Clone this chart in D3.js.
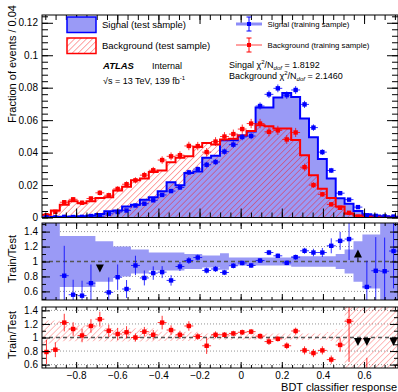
<!DOCTYPE html>
<html><head><meta charset="utf-8">
<script src="https://cdn.jsdelivr.net/npm/d3@7"></script>
<style>
body{margin:0;background:#fff;overflow:hidden}
text{font-family:"Liberation Sans",Arial,Helvetica,sans-serif;fill:#000}
</style></head>
<body><svg id="c" width="398" height="392"></svg>
<script>
// ---------------- data ----------------
const binLow = -0.966, binHigh = 0.765, nBins = 40;
const sigTest = [0.0002,0.0003,0.0005,0.0006,0.0008,0.0012,0.0022,0.0039,0.0043,0.0068,0.0078,0.0109,0.0125,0.0162,0.0218,0.0198,0.0274,0.0284,0.0369,0.0380,0.0476,0.0476,0.0506,0.0530,0.0678,0.0678,0.0740,0.0768,0.0743,0.0610,0.0495,0.0360,0.0240,0.0118,0.0085,0.0040,0.0020,0.0012,0.0008,0.0005];
const sigTrain = [0.0001,0.0001,0.0004,0.0003,0.0004,0.0009,0.0008,0.0023,0.0034,0.0043,0.0074,0.0085,0.0106,0.0139,0.0163,0.0185,0.0278,0.0298,0.0325,0.0342,0.0406,0.0449,0.0496,0.0502,0.0687,0.0759,0.0796,0.0754,0.0786,0.0697,0.0554,0.0403,0.0290,0.0150,0.0110,0.0064,0.0013,0.0010,0.0007,0.0006];
const sigTrainErr = [0.0001,0.0001,0.0002,0.0002,0.0002,0.0003,0.0003,0.0005,0.0006,0.0007,0.0009,0.0010,0.0011,0.0012,0.0013,0.0014,0.0016,0.0017,0.0018,0.0018,0.0019,0.0020,0.0020,0.0020,0.0022,0.0023,0.0024,0.0023,0.0024,0.0022,0.0020,0.0018,0.0016,0.0012,0.0010,0.0008,0.0004,0.0003,0.0003,0.0003];
const bkgTest = [0.0017,0.0043,0.0078,0.0100,0.0088,0.0100,0.0120,0.0125,0.0167,0.0190,0.0229,0.0240,0.0280,0.0290,0.0340,0.0369,0.0377,0.0434,0.0459,0.0450,0.0480,0.0485,0.0506,0.0533,0.0568,0.0562,0.0548,0.0548,0.0478,0.0383,0.0260,0.0177,0.0120,0.0068,0.0023,0.0013,0.0008,0.0004,0.0002,0.0002];
const bkgTrain = [0.0014,0.0035,0.0094,0.0112,0.0091,0.0117,0.0152,0.0137,0.0176,0.0205,0.0229,0.0261,0.0291,0.0354,0.0377,0.0384,0.0441,0.0440,0.0403,0.0468,0.0499,0.0514,0.0545,0.0579,0.0579,0.0528,0.0537,0.0481,0.0524,0.0310,0.0200,0.0143,0.0081,0.0060,0.0029,0.0005,0.0002,null,null,0.0001];
const bkgTrainErr = [0.0006,0.0009,0.0013,0.0014,0.0013,0.0014,0.0016,0.0016,0.0017,0.0018,0.0019,0.0020,0.0021,0.0023,0.0024,0.0024,0.0026,0.0026,0.0025,0.0027,0.0027,0.0028,0.0028,0.0029,0.0029,0.0028,0.0028,0.0027,0.0028,0.0022,0.0018,0.0015,0.0012,0.0010,0.0007,0.0003,0.0003,0.0002,0.0002,0.0002];

const sigRatio = [null,null,0.81,0.556,0.543,0.71,0.40,0.587,0.79,0.632,0.947,0.78,0.845,0.858,0.747,0.933,1.013,1.053,0.88,0.90,0.853,0.943,0.98,0.947,1.013,1.12,1.076,0.982,1.058,1.143,1.12,1.12,1.21,1.276,1.30,1.65,0.66,0.876,0.87,1.14];
const sigRatioErr = [0,0,0.4,0.2,0.2,0.25,0,0.2,0.17,0.12,0.13,0.1,0.09,0.08,0.07,0.06,0.045,0.04,0.04,0.04,0.035,0.035,0.03,0.03,0.03,0.035,0.03,0.03,0.035,0.04,0.05,0.06,0.1,0.12,0.28,0,0.35,0.45,0.45,0.5];
const sigBand = [0.6,0.6,0.34,0.34,0.34,0.34,0.27,0.27,0.2,0.2,0.16,0.16,0.12,0.12,0.12,0.12,0.1,0.1,0.08,0.08,0.11,0.055,0.055,0.055,0.055,0.055,0.055,0.055,0.07,0.07,0.07,0.07,0.07,0.1,0.16,0.27,0.36,0.36,0.6,0.6];

const bkgRatio = [0.786,0.82,1.22,1.125,1.03,1.17,1.27,1.10,1.052,1.077,1.0,1.086,1.04,1.22,1.11,1.04,1.17,1.014,0.878,1.04,1.04,1.06,1.077,1.086,1.02,0.94,0.98,0.878,1.096,0.81,0.77,0.81,0.674,0.89,1.24,0.40,0.30,null,null,0.40];
const bkgRatioErr = [0.18,0.11,0.13,0.1,0.1,0.1,0.11,0.09,0.09,0.09,0.06,0.07,0.07,0.1,0.07,0.06,0.07,0.05,0.12,0.05,0.04,0.04,0.04,0.04,0.04,0.05,0.04,0.05,0.05,0.06,0.06,0.06,0.06,0.1,0.6,0.1,0.4,0,0,0.1];
const bkgBandUp = [0.25,0.25,0.18,0.18,0.18,0.18,0.18,0.135,0.135,0.135,0.135,0.135,0.135,0.086,0.086,0.086,0.086,0.086,0.06,0.06,0.06,0.06,0.06,0.06,0.06,0.06,0.06,0.06,0.06,0.06,0.06,0.06,0.08,0.12,0.6,0.6,0.6,0.6,0.6,0.6];
const bkgBandDown = [0.09,0.09,0.055,0.055,0.055,0.055,0.055,0.06,0.06,0.06,0.06,0.06,0.06,0.05,0.05,0.05,0.05,0.05,0.035,0.035,0.035,0.035,0.035,0.035,0.035,0.035,0.035,0.035,0.035,0.035,0.035,0.035,0.05,0.1,0.6,0.6,0.6,0.6,0.6,0.6];

const xTicks = [-0.8,-0.6,-0.4,-0.2,0,0.2,0.4,0.6];
const mainYTicks = [0,0.02,0.04,0.06,0.08,0.1,0.12];
const ratioYTicks = [0.6,0.8,1,1.2,1.4];
const gridVals = [0.6,0.8,1.2,1.4];

// ---------------- layout ----------------
const svg = d3.select("#c");
const X0 = 42, X1 = 398;
const x = d3.scaleLinear().domain([binLow, binHigh]).range([X0, X1]);
const binW = (binHigh - binLow) / nBins;
const idx = d3.range(nBins);
const edges = d3.range(nBins + 1).map(i => binLow + i * binW);
const ctr = i => binLow + (i + 0.5) * binW;

const panels = {
  main: {y: d3.scaleLinear().domain([0, 0.1248]).range([217.5, 15]), top: 15, bot: 217.5},
  mid:  {y: d3.scaleLinear().domain([0.485, 1.515]).range([300, 223]), top: 223, bot: 300},
  bot:  {y: d3.scaleLinear().domain([0.55, 1.45]).range([368, 307]), top: 307, bot: 368}
};

const defs = svg.append("defs");
function hatch(id, color, sw, gap, op) {
  const p = defs.append("pattern").attr("id", id).attr("patternUnits", "userSpaceOnUse")
    .attr("width", gap).attr("height", gap).attr("patternTransform", "rotate(45)");
  p.append("line").attr("x1", 0).attr("y1", 0).attr("x2", 0).attr("y2", gap)
    .attr("stroke", color).attr("stroke-width", sw).attr("stroke-opacity", op);
}
hatch("hatchR", "#ff0000", 1, 4.2, 0.7);
hatch("hatchR2", "#ff2020", 1.1, 4.2, 0.55);

Object.entries(panels).forEach(([k, p]) => {
  defs.append("clipPath").attr("id", "clip-" + k).append("rect")
    .attr("x", X0).attr("y", p.top).attr("width", X1 - X0).attr("height", p.bot - p.top);
});

const BLUEFILL = "#9a9af6";

// ---------------- main panel ----------------
const yM = panels.main.y;
const gM = svg.append("g").attr("clip-path", "url(#clip-main)");
const stepData = arr => edges.map((e, i) => [e, arr[Math.min(i, nBins - 1)]]);
const area = d3.area().curve(d3.curveStepAfter).x(d => x(d[0])).y0(yM(0)).y1(d => yM(d[1]));
const line = d3.line().curve(d3.curveStepAfter).x(d => x(d[0])).y(d => yM(d[1]));

gM.append("path").attr("d", area(stepData(sigTest))).attr("fill", BLUEFILL);
gM.append("path").attr("d", area(stepData(bkgTest))).attr("fill", "url(#hatchR)");
gM.append("path").attr("d", line(stepData(sigTest))).attr("fill", "none").attr("stroke", "#0000ff").attr("stroke-width", 2);
gM.append("path").attr("d", line(stepData(bkgTest))).attr("fill", "none").attr("stroke", "#ff0000").attr("stroke-width", 2);

function points(g, vals, errs, yS, color, opts = {}) {
  const dom = yS.domain();
  idx.forEach(i => {
    const v = vals[i];
    if (v === null || v === undefined) return;
    const cx = x(ctr(i));
    const e = errs[i] || 0;
    const out = v < dom[0] ? -1 : (v > dom[1] ? 1 : 0);
    if (opts.arrows && out !== 0) {
      const y1 = yS(1);
      if (out < 0) {
        opts.arrowG.append("path").attr("d", `M${cx - 4},${y1 + opts.dOff} L${cx + 4},${y1 + opts.dOff} L${cx},${y1 + opts.dOff + 8} Z`).attr("fill", "#000");
      } else {
        opts.arrowG.append("line").attr("x1", cx).attr("x2", cx).attr("y1", y1).attr("y2", y1 - 4).attr("stroke", "#000");
        opts.arrowG.append("path").attr("d", `M${cx - 4},${y1 - 4} L${cx + 4},${y1 - 4} L${cx},${y1 - 12} Z`).attr("fill", "#000");
      }
    }
    if (e > 0) g.append("line").attr("x1", cx).attr("x2", cx).attr("y1", yS(v - e)).attr("y2", yS(v + e))
      .attr("stroke", color).attr("stroke-width", 1).attr("stroke-opacity", 0.8);
    g.append("line").attr("x1", x(edges[i])).attr("x2", x(edges[i + 1])).attr("y1", yS(v)).attr("y2", yS(v))
      .attr("stroke", color).attr("stroke-width", 1).attr("stroke-opacity", 0.8);
    g.append("rect").attr("x", cx - 2.2).attr("y", yS(v) - 2.2).attr("width", 4.4).attr("height", 4.4).attr("fill", color);
  });
}
points(gM, bkgTrain, bkgTrainErr, yM, "#ff0000");
points(gM, sigTrain, sigTrainErr, yM, "#0000ff");

// ---------------- ratio panels ----------------
function ratioPanel(key, bandDraw, vals, errs, color, dOff) {
  const p = panels[key], yS = p.y;
  const g = svg.append("g").attr("clip-path", `url(#clip-${key})`);
  gridVals.forEach(v => g.append("line").attr("x1", X0).attr("x2", X1).attr("y1", yS(v)).attr("y2", yS(v))
    .attr("stroke", "#777").attr("stroke-width", 0.8).attr("stroke-dasharray", "1,2"));
  bandDraw(g, yS);
  g.append("line").attr("x1", X0).attr("x2", X1).attr("y1", yS(1)).attr("y2", yS(1))
    .attr("stroke", "#555").attr("stroke-width", 1.3).attr("stroke-dasharray", "4,3");
  const arrowG = svg.append("g");
  points(g, vals, errs, yS, color, {arrows: true, arrowG, dOff});
}
ratioPanel("mid", (g, yS) => {
  const a = d3.area().curve(d3.curveStepAfter).x(d => x(d[0]))
    .y0(d => yS(1 - d[1])).y1(d => yS(1 + d[1]));
  g.append("path").attr("d", a(stepData(sigBand))).attr("fill", BLUEFILL);
}, sigRatio, sigRatioErr, "#0000ff", 3);
ratioPanel("bot", (g, yS) => {
  const up = stepData(bkgBandUp), dn = stepData(bkgBandDown);
  const a = d3.area().curve(d3.curveStepAfter).x(d => x(d[0]))
    .y0((d, i) => yS(1 - dn[i][1])).y1(d => yS(1 + d[1]));
  g.append("path").attr("d", a(up)).attr("fill", "url(#hatchR2)");
}, bkgRatio, bkgRatioErr, "#ff0000", 0.5);

// ---------------- axes & frames ----------------
function minorVals(dom, step) {
  const s = Math.ceil(dom[0] / step - 1e-9), e = Math.floor(dom[1] / step + 1e-9);
  return d3.range(s, e + 1).map(k => +(k * step).toFixed(6));
}
function frame(key, yTicks, yMinorStep, lenMaj, lenMin, yLab, xLab) {
  const p = panels[key], yS = p.y;
  const g = svg.append("g");
  const mk = (axis, tr) => {
    const a = g.append("g").attr("transform", tr).call(axis);
    a.select(".domain").remove();
    a.selectAll("line").attr("stroke", "#000");
    return a;
  };
  const xa = mk(d3.axisBottom(x).tickValues(xTicks).tickSize(-lenMaj).tickPadding(4)
    .tickFormat(xLab ? (d => d3.format(".1f")(d).replace("-", "\u2212").replace(/^0\.0$/, "0")) : ""), `translate(0,${p.bot})`);
  xa.selectAll("text").attr("font-size", 10).attr("dy", "0.72em");
  mk(d3.axisBottom(x).tickValues(minorVals(x.domain(), 0.05)).tickSize(-lenMin).tickFormat(""), `translate(0,${p.bot})`);
  mk(d3.axisTop(x).tickValues(xTicks).tickSize(-lenMaj).tickFormat(""), `translate(0,${p.top})`);
  mk(d3.axisTop(x).tickValues(minorVals(x.domain(), 0.05)).tickSize(-lenMin).tickFormat(""), `translate(0,${p.top})`);
  const ya = mk(d3.axisLeft(yS).tickValues(yTicks).tickSize(-lenMaj - 2).tickPadding(4)
    .tickFormat(d => d === 0 ? "0" : String(+d.toFixed(3))), `translate(${X0},0)`);
  ya.selectAll("text").attr("font-size", 10);
  mk(d3.axisLeft(yS).tickValues(minorVals(yS.domain(), yMinorStep)).tickSize(-lenMin - 1).tickFormat(""), `translate(${X0},0)`);
  mk(d3.axisRight(yS).tickValues(yTicks).tickSize(-lenMaj - 2).tickFormat(""), `translate(${X1},0)`);
  mk(d3.axisRight(yS).tickValues(minorVals(yS.domain(), yMinorStep)).tickSize(-lenMin - 1).tickFormat(""), `translate(${X1},0)`);
  g.append("rect").attr("x", X0).attr("y", p.top).attr("width", X1 - X0).attr("height", p.bot - p.top)
    .attr("fill", "none").attr("stroke", "#000").attr("stroke-width", 1);
  if (yLab) svg.append("text").attr("transform", `translate(16,${yLab.y}) rotate(-90)`)
    .attr("text-anchor", yLab.anchor).attr("font-size", 11).text(yLab.text);
}
frame("main", mainYTicks, 0.004, 9, 5, {text: "Fraction of events / 0.04", y: 5, anchor: "end"}, false);
frame("mid", ratioYTicks, 0.1, 6, 3, {text: "Train/Test", y: 259, anchor: "middle"}, false);
frame("bot", ratioYTicks, 0.1, 6, 3, {text: "Train/Test", y: 335, anchor: "middle"}, true);

svg.append("text").attr("x", 397).attr("y", 391).attr("text-anchor", "end").attr("font-size", 11)
  .text("BDT classifier response");

// ---------------- legend ----------------
const lg = svg.append("g");
lg.append("rect").attr("x", 67).attr("y", 17).attr("width", 29).attr("height", 15.5)
  .attr("fill", BLUEFILL).attr("stroke", "#0000ff").attr("stroke-width", 1.5);
lg.append("rect").attr("x", 67).attr("y", 38).attr("width", 29).attr("height", 15.5)
  .attr("fill", "url(#hatchR)").attr("stroke", "#ff0000").attr("stroke-width", 1.5);
lg.append("text").attr("x", 102).attr("y", 27.8).attr("font-size", 9.5).text("Signal (test sample)");
lg.append("text").attr("x", 102).attr("y", 48.8).attr("font-size", 9.5).text("Background (test sample)");

function legPoint(cy, color, hcolor, hw) {
  lg.append("line").attr("x1", 236).attr("x2", 262).attr("y1", cy).attr("y2", cy).attr("stroke", hcolor).attr("stroke-width", hw);
  lg.append("line").attr("x1", 249).attr("x2", 249).attr("y1", cy - 7).attr("y2", cy + 7).attr("stroke", color);
  lg.append("line").attr("x1", 246.5).attr("x2", 251.5).attr("y1", cy - 7).attr("y2", cy - 7).attr("stroke", color);
  lg.append("line").attr("x1", 246.5).attr("x2", 251.5).attr("y1", cy + 7).attr("y2", cy + 7).attr("stroke", color);
  lg.append("rect").attr("x", 247).attr("y", cy - 2).attr("width", 4).attr("height", 4).attr("fill", color);
}
legPoint(24, "#0000ff", "#8c8cf8", 3);
legPoint(45, "#ff0000", "#ff4040", 1);
lg.append("text").attr("x", 267.5).attr("y", 27).attr("font-size", 7.8).text("Signal (training sample)");
lg.append("text").attr("x", 267.5).attr("y", 48).attr("font-size", 7.8).text("Background (training sample)");

const at = svg.append("text").attr("x", 103).attr("y", 68.5).attr("font-size", 9.5);
at.append("tspan").attr("font-weight", "bold").attr("font-style", "italic").text("ATLAS");
svg.append("text").attr("x", 152).attr("y", 68.5).attr("font-size", 9).text("Internal");
const en = svg.append("text").attr("x", 103).attr("y", 83.5).attr("font-size", 9);
en.append("tspan").text("\u221As = 13 TeV, 139 fb");
en.append("tspan").attr("font-size", 6).attr("dy", -3.5).text("-1");

function chi(yb, label, val) {
  const t = svg.append("text").attr("x", 229).attr("y", yb).attr("font-size", 9);
  t.append("tspan").text(label + " \u03C7");
  t.append("tspan").attr("font-size", 6).attr("dy", -3.5).text("2");
  t.append("tspan").attr("dy", 3.5).text("/N");
  t.append("tspan").attr("font-size", 6).attr("font-style", "italic").attr("dy", 2).text("dof");
  t.append("tspan").attr("dy", -2).text(" = " + val);
}
chi(67.5, "Singal", "1.8192");
chi(78.5, "Background", "2.1460");
</script></body></html>
